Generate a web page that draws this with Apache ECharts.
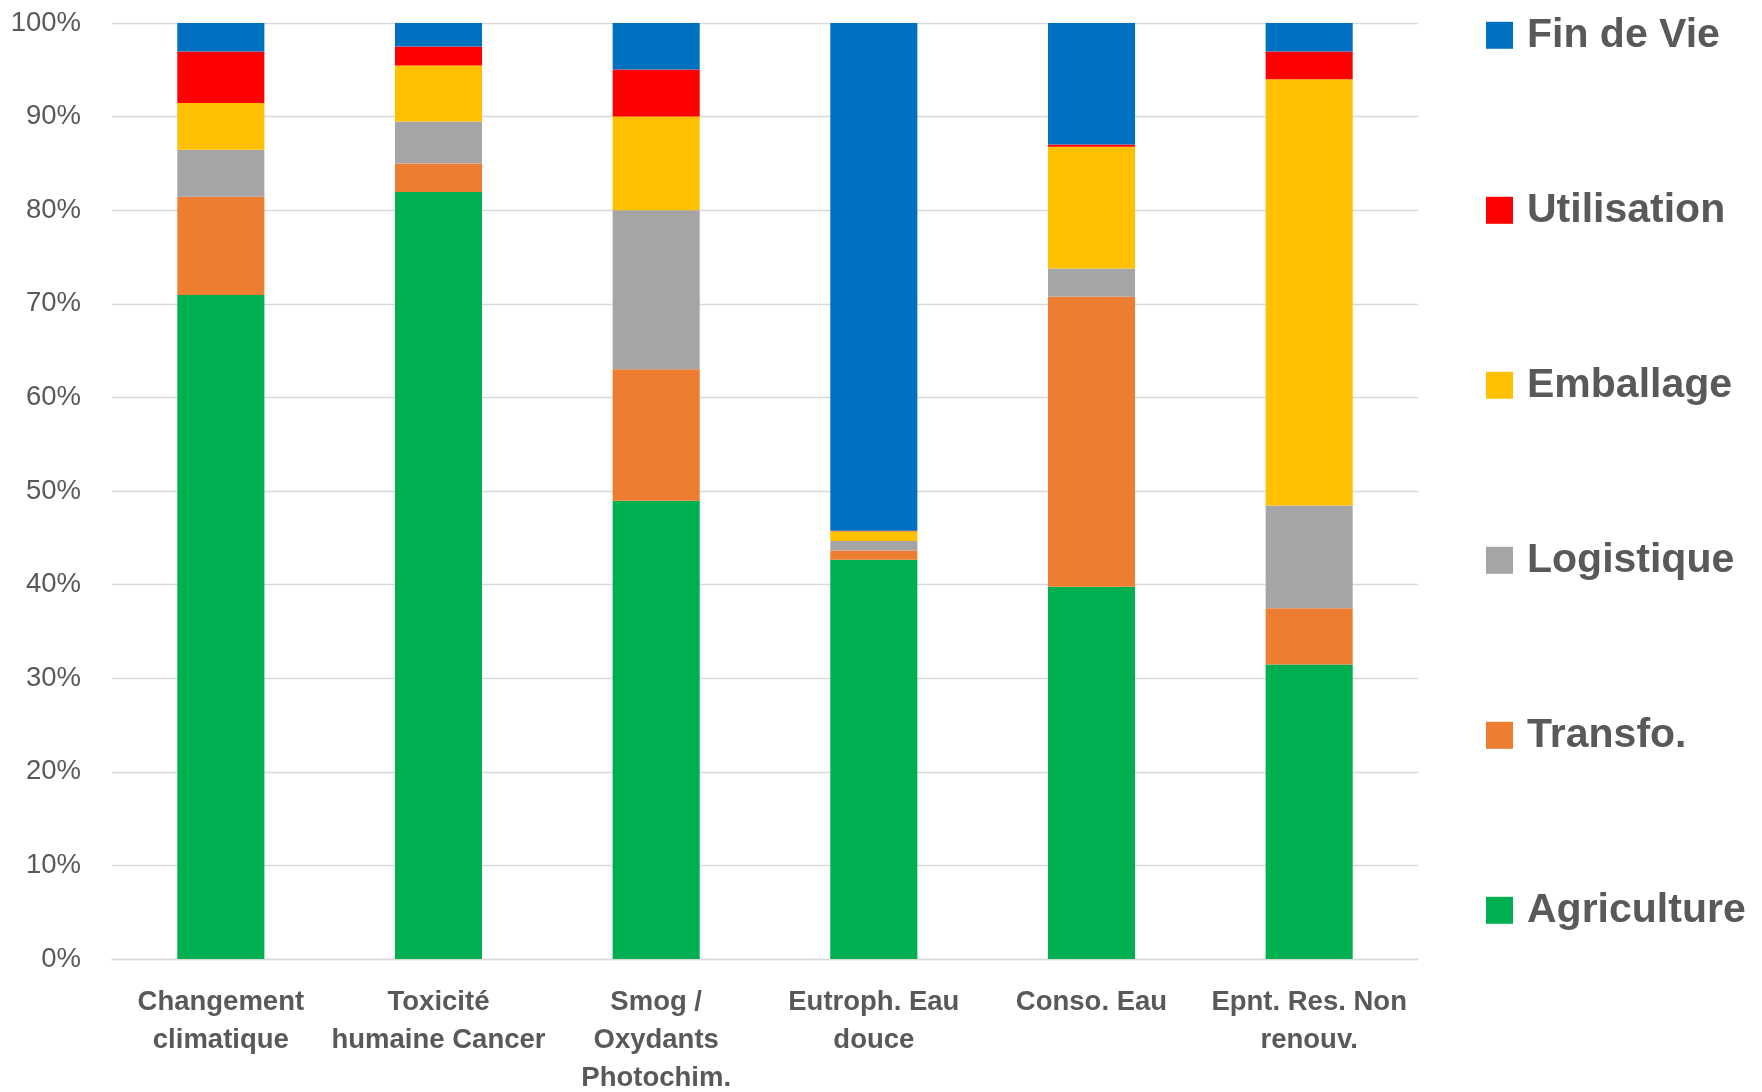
<!DOCTYPE html>
<html>
<head>
<meta charset="utf-8">
<script src="https://cdn.jsdelivr.net/npm/echarts@6/dist/echarts.min.js"></script>
<style>
html,body{margin:0;padding:0;background:#fff;}
#chart{width:1762px;height:1092px;}
</style>
</head>
<body>
<div id="chart"></div>
<script>
var categories = [
  "Changement\nclimatique",
  "Toxicité\nhumaine Cancer",
  "Smog /\nOxydants\nPhotochim.",
  "Eutroph. Eau\ndouce",
  "Conso. Eau",
  "Epnt. Res. Non\nrenouv."
];
var yTicks = [0, 10, 20, 30, 40, 50, 60, 70, 80, 90, 100];

var agriculture = [70.95, 81.95, 48.95, 42.65, 39.77, 31.47];
var transfo     = [10.5, 3.05, 14.07, 1.0, 30.99, 6.0];
var logistique  = [5.0, 4.47, 16.98, 1.0, 3.02, 10.97];
var emballage   = [5.0, 5.99, 10.0, 1.05, 13.0, 45.56];
var utilisation = [5.5, 2.02, 5.04, 0.05, 0.24, 2.95];
var finDeVie    = [3.05, 2.52, 4.96, 54.25, 12.98, 3.05];

var seriesNames = ["Agriculture", "Transfo.", "Logistique", "Emballage", "Utilisation", "Fin de Vie"];
var seriesColors = ["#00B050", "#ED7D31", "#A5A5A5", "#FFC000", "#FF0000", "#0070C0"];
var seriesValues = [agriculture, transfo, logistique, emballage, utilisation, finDeVie];

var chart = echarts.init(document.getElementById('chart'), null, {renderer: 'canvas'});

var series = seriesNames.map(function (name, i) {
  return {
    name: name,
    type: 'bar',
    stack: 'total',
    barWidth: '40%',
    itemStyle: {color: seriesColors[i]},
    data: seriesValues[i]
  };
});

chart.setOption({
  animation: false,
  backgroundColor: '#ffffff',
  grid: {left: 112, right: 344, top: 23, bottom: 133, containLabel: false, outerBoundsMode: 'none'},
  legend: {
    orient: 'vertical',
    left: 1486,
    top: 14.8,
    padding: 0,
    itemWidth: 27,
    itemHeight: 27,
    itemGap: 134,
    icon: 'rect',
    data: seriesNames.slice().reverse(),
    textStyle: {
      fontFamily: 'Liberation Sans',
      fontWeight: 'bold',
      fontSize: 41,
      color: '#595959',
      lineHeight: 41,
      padding: [0, 0, 0, 9]
    }
  },
  xAxis: {
    type: 'category',
    data: categories,
    axisLine: {show: true, lineStyle: {color: '#d9d9d9', width: 1.4}},
    axisTick: {show: false},
    axisLabel: {
      interval: 0,
      margin: 24,
      fontFamily: 'Liberation Sans',
      fontWeight: 'bold',
      fontSize: 27.5,
      lineHeight: 38.2,
      color: '#595959'
    }
  },
  yAxis: {
    type: 'value',
    min: yTicks[0],
    max: yTicks[yTicks.length - 1],
    interval: yTicks[1] - yTicks[0],
    axisLine: {show: false},
    axisTick: {show: false},
    splitLine: {lineStyle: {color: '#d9d9d9', width: 1.4}},
    axisLabel: {
      margin: 31,
      formatter: '{value}%',
      fontFamily: 'Liberation Sans',
      fontSize: 27.5,
      color: '#595959'
    }
  },
  series: series
});
</script>
</body>
</html>
